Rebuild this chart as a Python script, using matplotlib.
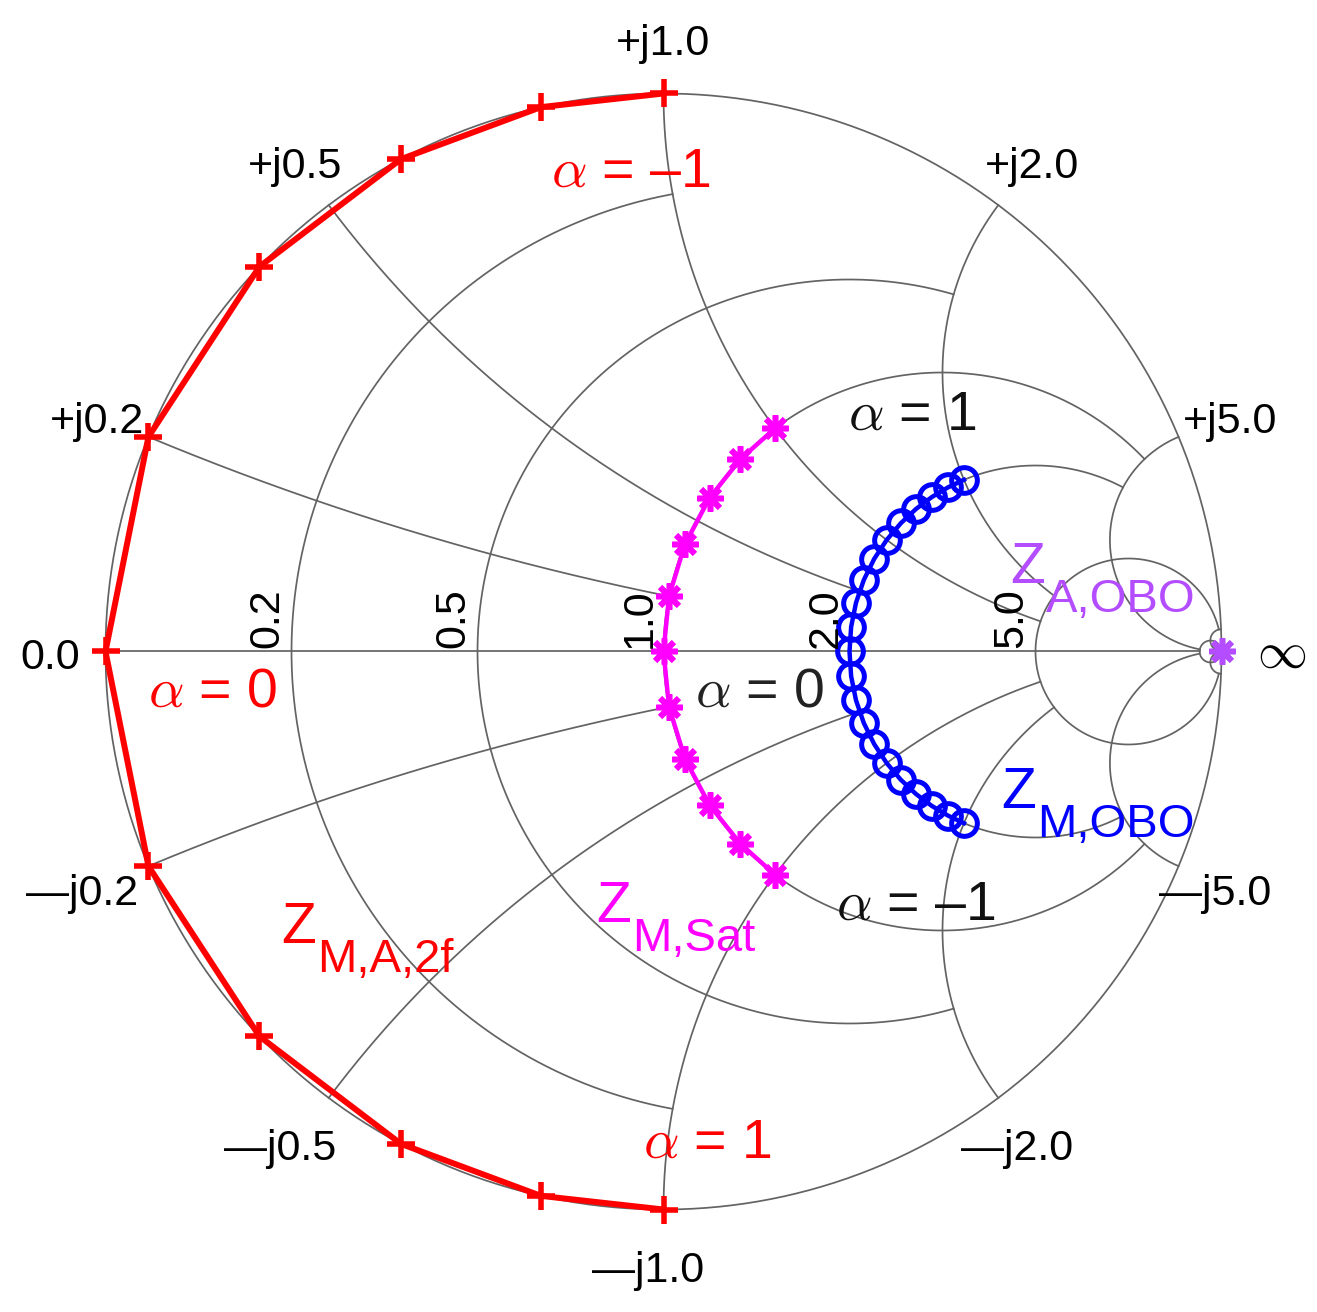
import numpy as np
import matplotlib
matplotlib.use("Agg")
import matplotlib.pyplot as plt

plt.rcParams['font.family'] = ['Liberation Sans', 'DejaVu Sans']
plt.rcParams['mathtext.fontset'] = 'cm'

# ---------------- data (normalized impedances z = r + jx) ----------------
alpha = [-1.0, -0.8, -0.6, -0.4, -0.2, 0.0, 0.2, 0.4, 0.6, 0.8, 1.0]

# Z_M,A,2f : pure reactance on the rim
zma2f_r = [0.0, 0.0, 0.0, 0.0, 0.0, 0.0, 0.0, 0.0, 0.0, 0.0, 0.0]
zma2f_x = [1.0, 0.8, 0.6, 0.4, 0.2, 0.0, -0.2, -0.4, -0.6, -0.8, -1.0]

# Z_M,Sat : on r = 1 circle
zmsat_r = [1.0, 1.0, 1.0, 1.0, 1.0, 1.0, 1.0, 1.0, 1.0, 1.0, 1.0]
zmsat_x = [1.0, 0.8, 0.6, 0.4, 0.2, 0.0, -0.2, -0.4, -0.6, -0.8, -1.0]

# Z_M,OBO : on r = 2 circle
zmobo_r = [2.0] * 21
zmobo_x = [2.0, 1.8, 1.6, 1.4, 1.2, 1.0, 0.8, 0.6, 0.4, 0.2, 0.0,
           -0.2, -0.4, -0.6, -0.8, -1.0, -1.2, -1.4, -1.6, -1.8, -2.0]

# Z_A,OBO : open circuit (reflection coefficient = 1)
zaobo_gamma = [1.0 + 0.0j]

# Smith grid values and their drawing limits
grid_values = [0.2, 0.5, 1.0, 2.0, 5.0, 50.0]
grid_limits = [1.0, 2.0, 5.0, 5.0, 50.0, np.inf]
res_labels = ["0.2", "0.5", "1.0", "2.0", "5.0"]
react_ticks = [0.2, 0.5, 1.0, 2.0, 5.0]
react_labels_pos = ["+j0.2", "+j0.5", "+j1.0", "+j2.0", "+j5.0"]
react_labels_neg = ["\u2014j0.2", "\u2014j0.5", "\u2014j1.0", "\u2014j2.0", "\u2014j5.0"]


def gamma(r, x):
    z = np.asarray(r, dtype=float) + 1j * np.asarray(x, dtype=float)
    return (z - 1) / (z + 1)


# ---------------- figure ----------------
W, H = 1317, 1312
fig = plt.figure(figsize=(W / 100, H / 100), dpi=100)
ax = fig.add_axes([0, 0, 1, 1])
cx, cy, R = 663.5, 651.5, 558.0
ax.set_xlim(-cx / R, (W - cx) / R)
ax.set_ylim(-(H - cy) / R, cy / R)
ax.set_aspect('equal')
ax.axis('off')

def px(xp, yp):
    return (xp - cx) / R, (cy - yp) / R

gc = '#636363'
glw = 1.25

# outer circle
t = np.linspace(0, 2 * np.pi, 800)
ax.plot(np.cos(t), np.sin(t), color=gc, lw=glw, zorder=1)
# real axis up to r=50
g = gamma(np.array([0.0, 50.0]), np.array([0.0, 0.0]))
ax.plot(g.real, g.imag, color=gc, lw=glw, zorder=1)

for v, lim in zip(grid_values, grid_limits):
    # resistance circle r = v, |x| <= lim
    th = np.linspace(-np.arctan(lim), np.arctan(lim), 1500)
    xs = np.tan(np.clip(th, -1.5707, 1.5707))
    g = gamma(np.full_like(xs, v), xs)
    if np.isinf(lim):
        g = np.append(g, 1 + 0j)
        g = np.insert(g, 0, 1 + 0j)
    ax.plot(g.real, g.imag, color=gc, lw=glw, zorder=1)
    # reactance arcs x = +-v, 0 <= r <= lim
    th = np.linspace(0, min(np.arctan(lim), 1.5707), 1500)
    rs = np.tan(th)
    for s in (1, -1):
        g = gamma(rs, s * v * np.ones_like(rs))
        if np.isinf(lim):
            g = np.append(g, 1 + 0j)
        ax.plot(g.real, g.imag, color=gc, lw=glw, zorder=1)

# ---------------- data series ----------------
g = gamma(zma2f_r, zma2f_x)
ax.plot(g.real, g.imag, color='#ff0000', lw=4.3, marker='+', ms=20,
        mew=4.0, zorder=3)
g = gamma(zmsat_r, zmsat_x)
ax.plot(g.real, g.imag, color='#ff00ff', lw=3.2, marker=(8, 2, 0), ms=19,
        mew=4.0, zorder=3)
g = gamma(zmobo_r, zmobo_x)
ax.plot(g.real, g.imag, color='#0000ff', lw=3.2, marker='o', ms=18.5,
        mew=3.6, mfc='none', zorder=3)
g = np.array(zaobo_gamma)
ax.plot(g.real, g.imag, color='#b34dff', lw=0, marker=(8, 2, 0), ms=19,
        mew=4.0, zorder=3)

# ---------------- tick labels ----------------
tfs = 31
dy = -0.011
for xv, lp, ln in zip(react_ticks, react_labels_pos, react_labels_neg):
    for s, lab in ((1, lp), (-1, ln)):
        gp = gamma(0.0, s * xv) * 1.1
        xoff = 0.0 if s > 0 else -15.0 / R
        ax.text(gp.real + xoff, gp.imag + dy, lab, fontsize=tfs, ha='center',
                va='center', zorder=5)
ax.text(-1.1, dy, "0.0", fontsize=tfs, ha='center', va='center')
ax.text(1.107, -0.006, r"$\infty$", fontsize=36, ha='center', va='center')

for rv, lab in zip(grid_values[:5], res_labels):
    gl = (rv - 1) / (rv + 1)
    ax.text(gl - 0.007, 0.007, lab, fontsize=tfs, rotation=90, ha='right',
            va='bottom', zorder=5)

# ---------------- annotations ----------------
afs = 40
def alab(xp, yp, txt, color):
    x, y = px(xp, yp)
    ax.text(x, y, txt, fontsize=afs, color=color, ha='left', va='baseline',
            zorder=6)

alab(551, 187, '$\\alpha$ = \u2013' + '1', '#ff0000')
alab(148, 707, '$\\alpha$ = 0', '#ff0000')
alab(643, 1158, '$\\alpha$ = 1', '#ff0000')
alab(848, 430, '$\\alpha$ = 1', '#111111')
alab(695, 707, '$\\alpha$ = 0', '#222222')
alab(836, 920, '$\\alpha$ = \u2013' + '1', '#111111')

zfs = 41
sfs = 34
def zlab(xp, yp, sub, color):
    x, y = px(xp, yp)
    ax.text(x, y, 'Z', fontsize=zfs, color=color, ha='left', va='baseline',
            zorder=6)
    ax.annotate(sub, xy=(x, y), xytext=(26.0, -21.0), textcoords='offset points',
                fontsize=sfs, color=color, ha='left', va='baseline', zorder=6)

zlab(281, 943, 'M,A,2f', '#ff0000')
zlab(596, 922, 'M,Sat', '#ff00ff')
zlab(1010, 583, 'A,OBO', '#b34dff')
zlab(1001, 808, 'M,OBO', '#0000ff')

fig.savefig('out.png', dpi=100)
